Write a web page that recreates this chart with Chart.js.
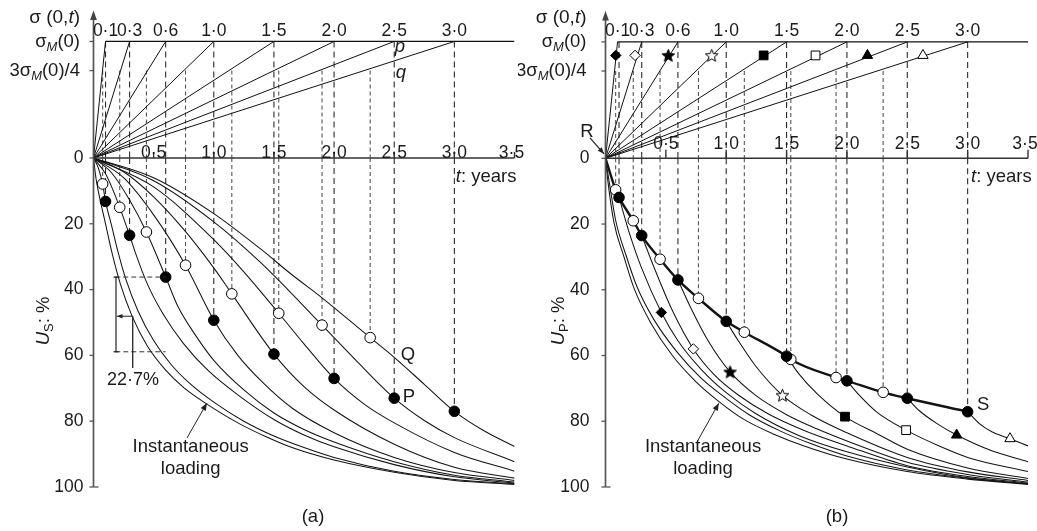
<!DOCTYPE html>
<html>
<head>
<meta charset="utf-8">
<script src="https://cdn.jsdelivr.net/npm/chart.js@4"></script>
<style>
  html, body { margin: 0; padding: 0; background: #fff; }
  #wrap { position: relative; width: 1037px; height: 531px; overflow: hidden; }
  canvas { position: absolute; top: 0; }
</style>
</head>
<body>
<div id="wrap">
  <canvas id="chartA" width="530" height="531" style="left:0"></canvas>
  <canvas id="chartB" width="519" height="531" style="left:518px"></canvas>
</div>
<script>
const FONT = '"Liberation Sans", Arial, sans-serif';
const FS = 17.5;     // numbers
const FW = 18.5;     // words

// loading times (years) and labels of the ramps
const loadTimes = [0.1, 0.3, 0.6, 1.0, 1.5, 2.0, 2.5, 3.0];
const loadLabels = ['0·1', '0·3', '0·6', '1·0', '1·5', '2·0', '2·5', '3·0'];
const tTicks = [0.5, 1.0, 1.5, 2.0, 2.5, 3.0, 3.5];
const tTickLabels = ['0·5', '1·0', '1·5', '2·0', '2·5', '3·0', '3·5'];
const uTicks = [0, 20, 40, 60, 80, 100];

// ---- panel (a): U_S curves [t, U%]
const aInstant = [[0,0],[0.02,6],[0.045,11],[0.1,20],[0.155,29],[0.225,38.5],[0.32,48],[0.445,57],[0.6,64.5],[0.75,69.8],[0.943,74.8],[1.2,80.5],[1.44,84.8],[1.65,88],[2.0,91.8],[2.5,95.5],[3.0,98],[3.5,99.2]];
const aLoad01 = [[0,0],[0.04,3],[0.076,7.9],[0.1,13.2],[0.15,20.5],[0.2,28],[0.27,37],[0.37,46.5],[0.5,55.5],[0.65,63],[0.8,68.5],[1.0,74.2],[1.25,80],[1.5,84.5],[1.75,88],[2.0,91],[2.5,95.2],[3.0,97.7],[3.5,99]];
const aLoad03 = [[0,0],[0.1,4.8],[0.15,8.7],[0.218,15],[0.3,23.5],[0.35,29],[0.45,38.5],[0.58,47.5],[0.75,56.5],[0.95,64.5],[1.2,72],[1.5,79.5],[1.75,84.2],[2.0,87.8],[2.5,93.2],[3.0,96.9],[3.5,98.8]];
const aLoad06 = [[0,0],[0.15,4.5],[0.3,12.8],[0.44,22.5],[0.6,36.2],[0.7,45],[0.85,54],[1.0,61.5],[1.25,70.5],[1.5,77.5],[1.75,82.5],[2.0,86.3],[2.5,92.3],[3.0,96.4],[3.5,98.5]];
const aLoad10 = [[0,0],[0.25,6],[0.5,17.3],[0.765,32.6],[1.0,49.3],[1.2,60],[1.4,68],[1.65,76],[2.0,83.5],[2.5,91],[3.0,95.6],[3.5,98]];
const aLoad15 = [[0,0],[0.25,4.2],[0.5,11.8],[0.75,21.7],[1.0,33.4],[1.15,41.3],[1.5,59.6],[1.75,69.5],[2.0,76.6],[2.5,87],[3.0,94],[3.5,97.3]];
const aLoad20 = [[0,0],[0.5,8.8],[1.0,24.8],[1.25,34.6],[1.54,47.2],[1.75,56.5],[2.0,67],[2.25,74.8],[2.5,80.5],[3.0,89.5],[3.5,95.2]];
const aLoad25 = [[0,0],[0.5,6.9],[1.0,19.4],[1.384,31.6],[1.9,50.8],[2.2,62.2],[2.5,73],[2.75,79.8],[3.0,85],[3.5,92.3]];
const aLoad30 = [[0,0],[0.5,6],[1.0,16.9],[1.384,27.5],[1.65,35.5],[1.9,42.5],[2.3,54.6],[2.5,60.6],[2.75,68.8],[3.0,77],[3.25,83],[3.5,87.7]];
const aFilledT = [0.1, 0.3, 0.6, 1.0, 1.5, 2.0, 2.5, 3.0];
const aFilledU = [13.2, 23.5, 36.2, 49.3, 59.6, 67, 73, 77];
const aOpenT = [0.076, 0.218, 0.44, 0.765, 1.15, 1.54, 1.9, 2.3];
const aOpenU = [7.9, 15, 22.5, 32.6, 41.3, 47.2, 50.8, 54.6];

// ---- panel (b): U_P curves
const bInstant1 = [[0,0],[0.02,7],[0.07,19.5],[0.153,30],[0.236,39.5],[0.374,50],[0.554,60],[0.75,68],[0.94,74],[1.15,79.5],[1.4,84],[1.645,87.5],[2.0,91.5],[2.5,95.3],[3.0,97.6],[3.5,99.2]];
const bInstant2 = [[0,0],[0.03,7],[0.085,19],[0.17,29.5],[0.26,39],[0.4,49],[0.59,58.8],[0.79,66.8],[0.98,72.5],[1.19,78],[1.45,83],[1.7,86.8],[2.0,90.6],[2.5,94.8],[3.0,97.3],[3.5,99.1]];
const bS = [[0,0],[0.084,9.6],[0.112,11.9],[0.23,19],[0.3,23.5],[0.452,30.7],[0.6,37],[0.77,42.6],[1.0,49.6],[1.15,52.9],[1.5,60.2],[1.535,61.2],[1.91,66.7],[2.0,67.7],[2.3,71.2],[2.5,73],[3.0,77.1]];
const bLoad01 = [[0.112,11.9],[0.2,23],[0.3,33.5],[0.463,46.9],[0.6,55.5],[0.8,64.5],[1.0,71.3],[1.25,77.8],[1.6,84.3],[2.0,89.3],[2.5,93.9],[3.0,97.2],[3.5,99]];
const bLoad03 = [[0.3,23.5],[0.4,33],[0.55,46],[0.728,58],[0.9,65.8],[1.1,72],[1.35,77.8],[1.645,82.8],[2.0,87.5],[2.5,93.5],[3.0,96.8],[3.5,98.8]];
const bLoad06 = [[0.6,37],[0.7,45],[0.85,55.5],[1.032,65],[1.25,72.3],[1.5,78],[1.75,82.3],[2.0,86],[2.5,92.5],[3.0,96.2],[3.5,98.5]];
const bLoad10 = [[1.0,49.6],[1.1,55.5],[1.25,63.5],[1.466,72.1],[1.7,78],[2.0,83.5],[2.5,91],[3.0,95.4],[3.5,98]];
const bLoad15 = [[1.5,60.2],[1.6,65.5],[1.75,71.5],[1.984,78.6],[2.25,83.8],[2.5,88.5],[3.0,94.2],[3.5,97.4]];
const bLoad20 = [[2.0,67.7],[2.1,72],[2.25,77.3],[2.49,82.7],[2.75,87.3],[3.0,91],[3.5,95.3]];
const bLoad25 = [[2.5,73],[2.6,76.8],[2.75,80.8],[2.909,84.2],[3.2,89],[3.5,92.3]];
const bLoad30 = [[3.0,77.1],[3.1,80.8],[3.2,83.2],[3.351,85.3],[3.5,87.5]];
const bFilledT = [0.112, 0.3, 0.6, 1.0, 1.5, 2.0, 2.5, 3.0];
const bFilledU = [11.9, 23.5, 37, 49.6, 60.2, 67.7, 73, 77.1];
const bOpenT = [0.084, 0.23, 0.452, 0.77, 1.15, 1.535, 1.91, 2.3];
const bOpenU = [9.6, 19, 30.7, 42.6, 52.9, 61.2, 66.7, 71.2];
// symbols on the ramps (top) and on the curves (bottom)
const bMarkTopT = [0.085, 0.245, 0.52, 0.88, 1.31, 1.74, 2.17, 2.63];
const bMarkTopSigma = [0.884, 0.884, 0.884, 0.884, 0.884, 0.884, 0.884, 0.884];
const bMarkT = [0.463, 0.728, 1.032, 1.466, 1.984, 2.49, 2.909, 3.351];
const bMarkU = [46.9, 58, 65, 72.1, 78.6, 82.7, 84.2, 85.3];

function starImage(fill) {
  const c = document.createElement('canvas');
  c.width = 15; c.height = 15;
  const g = c.getContext('2d');
  g.beginPath();
  for (let i = 0; i < 10; i++) {
    const r = i % 2 ? 2.9 : 6.6;
    const a = -Math.PI / 2 + i * Math.PI / 5;
    g.lineTo(7.5 + r * Math.cos(a), 8 + r * Math.sin(a));
  }
  g.closePath();
  g.fillStyle = fill; g.fill();
  g.strokeStyle = '#000'; g.lineWidth = 1; g.stroke();
  return c;
}
const markShapes = ['rectRot', 'rectRot', starImage('#000'), starImage('#fff'), 'rect', 'rect', 'triangle', 'triangle'];
const markFills = ['#000', '#fff', '#000', '#fff', '#000', '#fff', '#000', '#fff'];
const markSizes = [5.2, 5.2, 7, 7, 6.2, 6.2, 6, 6];

const xy = pts => pts.map(p => ({x: p[0], y: p[1]}));
const zip = (ts, vs) => ts.map((t, i) => ({x: t, y: vs[i]}));

function baseSets(filledT, filledU, openT, openU) {
  const sets = [];
  loadTimes.forEach(tc => sets.push({
    data: [{x: 0, y: 0}, {x: tc, y: 1}], yAxisID: 'yS',
    borderColor: '#111', borderWidth: 1, pointRadius: 0, order: 6
  }));
  sets.push({data: [{x: loadTimes[0], y: 1}, {x: 3.5, y: 1}], yAxisID: 'yS',
    borderColor: '#111', borderWidth: 1.2, pointRadius: 0, order: 6});
  const dash = (ts, lvl, us, color, pattern) => {
    const top = [], bot = [];
    ts.forEach((t, i) => {
      top.push({x: t, y: lvl}, {x: t, y: 0}, {x: t, y: null});
      bot.push({x: t, y: 0}, {x: t, y: us[i]}, {x: t, y: null});
    });
    const st = {borderColor: color, borderWidth: 1.1, borderDash: pattern, pointRadius: 0, order: 7};
    sets.push(Object.assign({data: top, yAxisID: 'yS'}, st));
    sets.push(Object.assign({data: bot, yAxisID: 'yU'}, st));
  };
  dash(filledT, 1, filledU, '#2a2a2a', [6, 4]);
  dash(openT, 0.75, openU, '#555', [4, 3]);
  sets.push({data: zip(filledT, filledU), yAxisID: 'yU', showLine: false, pointRadius: 5.3,
    pointBackgroundColor: '#000', pointBorderColor: '#000', pointBorderWidth: 1, order: 0});
  sets.push({data: zip(openT, openU), yAxisID: 'yU', showLine: false, pointRadius: 5.3,
    pointBackgroundColor: '#fff', pointBorderColor: '#000', pointBorderWidth: 1, order: 0});
  return sets;
}

function curveSet(pts, width) {
  return {data: xy(pts), yAxisID: 'yU', borderColor: '#141414', borderWidth: width || 1.05,
    pointRadius: 0, cubicInterpolationMode: 'monotone', order: 3};
}

const dataA = baseSets(aFilledT, aFilledU, aOpenT, aOpenU)
  .concat([aInstant, aLoad01, aLoad03, aLoad06, aLoad10, aLoad15, aLoad20, aLoad25, aLoad30].map(c => curveSet(c)));

const dataB = baseSets(bFilledT, bFilledU, bOpenT, bOpenU)
  .concat([bInstant1, bInstant2, bLoad01, bLoad03, bLoad06, bLoad10, bLoad15, bLoad20, bLoad25, bLoad30].map(c => curveSet(c)))
  .concat([
    Object.assign(curveSet(bS, 2.4), {order: 2}),
    {data: zip(bMarkTopT, bMarkTopSigma), yAxisID: 'yS', showLine: false, pointStyle: markShapes,
      pointRadius: markSizes, pointBackgroundColor: markFills, pointBorderColor: '#000', pointBorderWidth: 1, order: 0},
    {data: zip(bMarkT, bMarkU), yAxisID: 'yU', showLine: false, pointStyle: markShapes,
      pointRadius: markSizes, pointBackgroundColor: markFills, pointBorderColor: '#000', pointBorderWidth: 1, order: 0}
  ]);

// panel layout and annotations
const panels = {
  chartA: {
    numGap: 10, sigGap: 13.5, titleX: 44, tickLen: 6, tLabelBase: 157.5, yearsDx: 2,
    sub: 'S', panelText: '(a)', panelX: 313,
    notes: [
      {text: 'Q', t: 2.614, u: 59.9}, {text: 'P', t: 2.623, u: 72.6},
      {text: 'p', t: 2.548, s: 0.953, italic: true}, {text: 'q', t: 2.556, s: 0.73, italic: true},
      {text: '22·7%', t: 0.328, u: 67.5}
    ],
    inst: {t: 0.808, tail: [0.777, 85.1], tip: [0.943, 74.5]},
    bracket: true
  },
  chartB: {
    numGap: 16, sigGap: 19, titleX: 41, tickLen: 8.5, tLabelBase: 148.5, yearsDx: 3.7,
    sub: 'P', panelText: '(b)', panelX: 319,
    notes: [{text: 'S', t: 3.128, u: 75.1}],
    inst: {t: 0.808, tail: [0.761, 86.1], tip: [0.939, 74.5]},
    rMark: true
  }
};

function setFont(ctx, size, italic) {
  ctx.font = (italic ? 'italic ' : '') + size + 'px ' + FONT;
}
// parts: [text, kind]  kind: '' | 'i' | 'sub' | 'subi'
function rich(ctx, parts, x, y, align, size) {
  const sizes = parts.map(p => p[1].startsWith('sub') ? size * 0.7 : size);
  const widths = parts.map((p, i) => {
    setFont(ctx, sizes[i], p[1] === 'i' || p[1] === 'subi');
    return ctx.measureText(p[0]).width;
  });
  const w = widths.reduce((a, b) => a + b, 0);
  let cx = align === 'right' ? x - w : align === 'center' ? x - w / 2 : x;
  ctx.textAlign = 'left';
  parts.forEach((p, i) => {
    setFont(ctx, sizes[i], p[1] === 'i' || p[1] === 'subi');
    ctx.fillText(p[0], cx, p[1].startsWith('sub') ? y + size * 0.3 : y);
    cx += widths[i];
  });
}
function seg(ctx, x1, y1, x2, y2) {
  ctx.beginPath(); ctx.moveTo(x1, y1); ctx.lineTo(x2, y2); ctx.stroke();
}
function arrow(ctx, x1, y1, x2, y2, head) {
  seg(ctx, x1, y1, x2, y2);
  const a = Math.atan2(y2 - y1, x2 - x1);
  ctx.beginPath();
  ctx.moveTo(x2, y2);
  ctx.lineTo(x2 - head * Math.cos(a - 0.38), y2 - head * Math.sin(a - 0.38));
  ctx.lineTo(x2 - head * Math.cos(a + 0.38), y2 - head * Math.sin(a + 0.38));
  ctx.closePath(); ctx.fill();
}

const decor = {
  id: 'decor',
  afterDatasetsDraw(chart) {
    const p = panels[chart.canvas.id];
    const ctx = chart.ctx;
    const X = v => chart.scales.x.getPixelForValue(v);
    const U = v => chart.scales.yU.getPixelForValue(v);
    const S = v => chart.scales.yS.getPixelForValue(v);
    const x0 = X(0), y0 = U(0);
    ctx.save();

    // vertical axis with arrow
    ctx.strokeStyle = '#555'; ctx.fillStyle = '#444'; ctx.lineWidth = 1.7;
    seg(ctx, x0, U(100), x0, S(1.19));
    ctx.beginPath();
    ctx.moveTo(x0, S(1.265)); ctx.lineTo(x0 - 3.4, S(1.185)); ctx.lineTo(x0 + 3.4, S(1.185));
    ctx.closePath(); ctx.fill();
    ctx.lineWidth = 1.3;
    uTicks.forEach(u => seg(ctx, x0 - 4, U(u), x0, U(u)));
    seg(ctx, x0, U(100), x0 + 5, U(100));
    [1, 0.75].forEach(s => seg(ctx, x0 - 4, S(s), x0, S(s)));

    // time axis
    ctx.strokeStyle = '#333'; ctx.lineWidth = 1.4;
    seg(ctx, x0, y0, X(3.5), y0);
    tTicks.forEach(t => seg(ctx, X(t), y0, X(t), y0 - p.tickLen));

    ctx.fillStyle = '#1b1b1b';
    ctx.textBaseline = 'middle';
    setFont(ctx, FS, false);
    ctx.textAlign = 'right';
    uTicks.forEach(u => ctx.fillText(String(u), x0 - p.numGap, U(u)));
    rich(ctx, [['σ', ''], ['M', 'subi'], ['(0)', '']], x0 - p.sigGap, S(1), 'right', FW);
    rich(ctx, [['3σ', ''], ['M', 'subi'], ['(0)/4', '']], x0 - p.sigGap, S(0.75), 'right', FW);
    rich(ctx, [['σ (0,', ''], ['t', 'i'], [')', '']], x0 - p.sigGap, 18, 'right', 19);

    ctx.textBaseline = 'alphabetic';
    setFont(ctx, FS, false);
    ctx.textAlign = 'center';
    loadTimes.forEach((tc, i) => ctx.fillText(loadLabels[i], X(tc), 35.5));
    tTicks.forEach((t, i) => ctx.fillText(tTickLabels[i], X(t) - (t === 3.5 ? 3 : 0), p.tLabelBase));
    rich(ctx, [['t', 'i'], [': years', '']], X(3.5) + p.yearsDx, 182, 'right', FW);

    // axis title
    ctx.save();
    ctx.translate(p.titleX, 321);
    ctx.rotate(-Math.PI / 2);
    ctx.textBaseline = 'middle';
    rich(ctx, [['U', 'i'], [p.sub, 'sub'], [': %', '']], 0, 0, 'center', FW);
    ctx.restore();

    // panel label
    ctx.textBaseline = 'middle';
    setFont(ctx, FW, false);
    ctx.textAlign = 'center';
    ctx.fillText(p.panelText, p.panelX, 517);

    // notes on the plot
    p.notes.forEach(n => {
      setFont(ctx, n.text.length > 2 ? 18 : FW, !!n.italic);
      ctx.fillText(n.text, X(n.t), n.u !== undefined ? U(n.u) : S(n.s));
    });

    // instantaneous loading label + arrow
    ctx.textBaseline = 'alphabetic';
    setFont(ctx, FW, false);
    ctx.fillText('Instantaneous', X(p.inst.t), U(89.5));
    ctx.fillText('loading', X(p.inst.t), U(95.9));
    ctx.strokeStyle = '#222'; ctx.fillStyle = '#222'; ctx.lineWidth = 1;
    arrow(ctx, X(p.inst.tail[0]), U(p.inst.tail[1]), X(p.inst.tip[0]), U(p.inst.tip[1]), 8);

    if (p.bracket) {
      // 22.7% difference marker at t = 0.6
      ctx.setLineDash([5, 3]);
      ctx.strokeStyle = '#333';
      seg(ctx, X(0.181), U(36.2), X(0.6), U(36.2));
      seg(ctx, X(0.181), U(58.9), X(0.6), U(58.9));
      ctx.setLineDash([]);
      ctx.strokeStyle = '#222'; ctx.lineWidth = 1.2;
      seg(ctx, X(0.187), U(36.2), X(0.187), U(58.9));
      seg(ctx, X(0.187) - 2.5, U(36.2), X(0.187) + 2.5, U(36.2));
      seg(ctx, X(0.187) - 2.5, U(58.9), X(0.187) + 2.5, U(58.9));
      ctx.lineWidth = 1.3;
      seg(ctx, X(0.326), U(63.8), X(0.326), U(48.1));
      ctx.lineWidth = 1;
      arrow(ctx, X(0.326), U(48.1), X(0.195), U(48.1), 6);
    }
    if (p.rMark) {
      ctx.fillStyle = '#1b1b1b';
      setFont(ctx, FW, false);
      ctx.textBaseline = 'middle';
      ctx.fillText('R', x0 - 18.5, y0 - 26);
      ctx.fillStyle = '#222'; ctx.lineWidth = 1.2;
      arrow(ctx, x0 - 15.5, y0 - 20.5, x0 - 1.5, y0 - 4.5, 7);
    }
    ctx.restore();
  }
};

function makeChart(id, datasets, pad) {
  return new Chart(document.getElementById(id), {
    type: 'line',
    data: {datasets: datasets},
    options: {
      responsive: false,
      animation: false,
      devicePixelRatio: 1,
      events: [],
      layout: {padding: pad},
      plugins: {legend: {display: false}, tooltip: {enabled: false}},
      elements: {line: {tension: 0}},
      scales: {
        x: {type: 'linear', min: 0, max: 3.5, display: false},
        yU: {type: 'linear', min: 0, max: 100, reverse: true, display: false,
          stack: 'v', stackWeight: 329, weight: 0},
        yS: {type: 'linear', min: 0, max: 1.3, display: false,
          stack: 'v', stackWeight: 151.45, weight: 1}
      }
    },
    plugins: [decor]
  });
}

makeChart('chartA', dataA, {left: 93.5, right: 15.5, top: 6.5, bottom: 44});
makeChart('chartB', dataB, {left: 87.5, right: 9, top: 6.5, bottom: 44});
</script>
</body>
</html>
